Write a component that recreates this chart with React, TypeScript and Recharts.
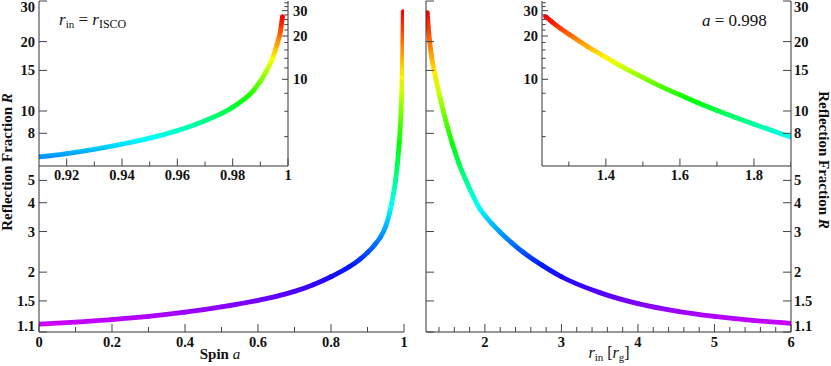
import { LineChart, Line, XAxis, YAxis, CartesianGrid } from 'recharts'

// r_in = r_ISCO, reflection fraction against spin (main panel)
const spin = [0, 0.1, 0.2, 0.3, 0.4, 0.5, 0.6, 0.65, 0.7, 0.75, 0.8, 0.85, 0.88, 0.9, 0.92, 0.935, 0.95, 0.96, 0.966, 0.972, 0.977, 0.982, 0.987, 0.992, 0.995, 0.997, 0.998]
const spinFraction = [1.19, 1.215, 1.245, 1.285, 1.34, 1.415, 1.51, 1.57, 1.65, 1.76, 1.91, 2.11, 2.28, 2.43, 2.63, 2.83, 3.16, 3.59, 3.95, 4.45, 5.0, 5.9, 7.3, 10, 14, 20, 27]

// same sweep as drawn in the zoomed inset
const spinZoom = [0.91, 0.92, 0.94, 0.95, 0.96, 0.97, 0.98, 0.9875, 0.992, 0.9943, 0.9961, 0.9973, 0.998]
const spinZoomFraction = [2.89, 3.05, 3.55, 3.9, 4.4, 5.15, 6.4, 8.35, 11.2, 13.8, 17.6, 21.7, 27.3]

// a = 0.998, reflection fraction against inner radius (main panel)
const radius = [1.246, 1.259, 1.276, 1.303, 1.346, 1.42, 1.486, 1.573, 1.66, 1.79, 1.944, 2, 2.1, 2.2, 2.35, 2.5, 2.75, 3, 3.5, 4, 4.5, 5, 5.5, 6]
const radiusFraction = [26.7, 23.2, 20.3, 17.2, 14.5, 11.2, 9.14, 7.24, 5.93, 4.69, 3.72, 3.52, 3.22, 2.98, 2.68, 2.44, 2.14, 1.91, 1.63, 1.46, 1.355, 1.285, 1.235, 1.2]

// same sweep as drawn in the zoomed inset
const radiusZoom = [1.237, 1.255, 1.277, 1.3, 1.35, 1.4, 1.45, 1.5, 1.55, 1.6, 1.65, 1.7, 1.75, 1.8, 1.85, 1.9]
const radiusZoomFraction = [27.3, 25.0, 22.6, 20.6, 16.9, 14.2, 12.0, 10.3, 8.9, 7.8, 6.85, 6.08, 5.44, 4.88, 4.4, 3.97]

const spinTicks = [0, 0.1, 0.2, 0.3, 0.4, 0.5, 0.6, 0.7, 0.8, 0.9, 1]
const spinLabels = [0, 0.2, 0.4, 0.6, 0.8, 1]
const spinTopTicks = [0.8]
const radiusTicks = [1.4, 1.6, 1.8, 2, 2.2, 2.4, 2.6, 2.8, 3, 3.2, 3.4, 3.6, 3.8, 4, 4.2, 4.4, 4.6, 4.8, 5, 5.2, 5.4, 5.6, 5.8, 6]
const radiusLabels = [2, 3, 4, 5, 6]
const radiusTopTicks = [1.4, 1.6, 1.8, 2, 2.2, 2.4, 2.6]
const fracTicks = [1.1, 1.5, 2, 3, 4, 5, 8, 10, 15, 20, 30]

const spinZoomTicks = [0.92, 0.93, 0.94, 0.95, 0.96, 0.97, 0.98, 0.99, 1]
const spinZoomLabels = [0.92, 0.94, 0.96, 0.98, 1]
const radiusZoomTicks = [1.3, 1.4, 1.5, 1.6, 1.7, 1.8, 1.9]
const radiusZoomLabels = [1.4, 1.6, 1.8]
const fracZoomTicks = [4, 6, 8, 10, 12, 14, 16, 18, 20, 22, 24, 26, 28, 30, 32, 34]
const fracZoomLabels = [10, 20, 30]

type Pt = { x: number; R: number }
const spinData: Pt[] = spin.map((a, i) => ({ x: a, R: spinFraction[i] }))
const spinZoomData: Pt[] = spinZoom.map((a, i) => ({ x: a, R: spinZoomFraction[i] }))
const radiusData: Pt[] = radius.map((r, i) => ({ x: r, R: radiusFraction[i] }))
const radiusZoomData: Pt[] = radiusZoom.map((r, i) => ({ x: r, R: radiusZoomFraction[i] }))

const serif = '"Liberation Serif", "Times New Roman", serif'
const axisLine = { stroke: '#333', strokeWidth: 1 }
const tickFont = { fontFamily: serif, fontWeight: 700, fontSize: 14.5, fill: '#111' }

// rainbow: magenta at small R through blue, cyan, green, yellow to red
const colourOf = (R: number) => {
  const h = Math.max(0, Math.min(300, 240 - (Math.log10(R) - Math.log10(2)) * 214))
  return `hsl(${h.toFixed(1)}, 100%, 50%)`
}

const gradient = (id: string, data: Pt[]) => {
  const logs = data.map((d) => Math.log10(d.R))
  const hi = Math.max(...logs)
  const lo = Math.min(...logs)
  const n = 16
  return (
    <linearGradient id={id} x1="0" y1="0" x2="0" y2="1">
      {Array.from({ length: n + 1 }, (_, k) => (
        <stop key={k} offset={k / n} stopColor={colourOf(10 ** (hi - (k / n) * (hi - lo)))} />
      ))}
    </linearGradient>
  )
}

const dotFor = (p: any) => (
  <circle key={`d${p.index}`} cx={p.cx} cy={p.cy} r={2.4} fill={colourOf(p.payload.R)} stroke="none" />
)

const near = (list: number[], v: number) => list.some((u) => Math.abs(u - v) < 1e-6)

// ticks point into the plot, labels sit outside
function tickMaker(side: string, labels: number[], majors: number[], big: number, small: number, gap: number, nudge = false) {
  return (p: any) => {
    const { x, y, payload } = p
    const v = payload.value
    const len = near(majors, v) ? big : small
    const show = near(labels, v)
    let dy = 0
    if (nudge && v === 30) dy = 6
    if (nudge && v === 1.1) dy = -6
    if (side === 'left')
      return (
        <g>
          <line x1={x} x2={x + len} y1={y} y2={y} stroke="#444" />
          {show && <text x={x - gap} y={y + dy} dy="0.35em" textAnchor="end" {...tickFont}>{v}</text>}
        </g>
      )
    if (side === 'right')
      return (
        <g>
          <line x1={x - len} x2={x} y1={y} y2={y} stroke="#444" />
          {show && <text x={x + gap} y={y + dy} dy="0.35em" textAnchor="start" {...tickFont}>{v}</text>}
        </g>
      )
    if (side === 'top')
      return (
        <g>
          <line x1={x} x2={x} y1={y} y2={y + len} stroke="#444" />
        </g>
      )
    return (
      <g>
        <line x1={x} x2={x} y1={y - len} y2={y} stroke="#444" />
        {show && <text x={x} y={y + gap} textAnchor="middle" {...tickFont}>{v}</text>}
      </g>
    )
  }
}

const bare = { tickSize: 0, tickMargin: 0, tickLine: false, interval: 0 as const, axisLine, allowDataOverflow: true }

function CurveLayer({ id, data, xDomain, left }: { id: string; data: Pt[]; xDomain: number[]; left: number }) {
  return (
    <div style={{ position: 'absolute', left, top: 1 }}>
      <LineChart width={365} height={331} data={data} margin={{ top: 0, right: 0, bottom: 0, left: 0 }}>
        <defs>{gradient(id, data)}</defs>
        <XAxis type="number" dataKey="x" domain={xDomain} hide allowDataOverflow />
        <YAxis type="number" scale="log" domain={[1.1, 30]} hide allowDataOverflow />
        <Line
          type="monotone"
          dataKey="R"
          stroke={`url(#${id})`}
          strokeWidth={4.8}
          dot={dotFor}
          activeDot={false}
          isAnimationActive={false}
        />
      </LineChart>
    </div>
  )
}

export default function App() {
  return (
    <div style={{ position: 'absolute', left: 0, top: 0, width: 831, height: 366, background: '#fff' }}>
      <CurveLayer id="spinRainbow" data={spinData} xDomain={[0, 1]} left={39} />
      <CurveLayer id="radiusRainbow" data={radiusData} xDomain={[1.23, 6]} left={426} />

      {/* inset: spin close to 1 */}
      <div style={{ position: 'absolute', left: 0, top: 0 }}>
        <LineChart width={330} height={190} data={spinZoomData} margin={{ top: 1, right: 0, bottom: 0, left: 39 }}>
          <defs>{gradient('spinZoomRainbow', spinZoomData)}</defs>
          <CartesianGrid xAxisId="b" yAxisId="r" horizontal={false} vertical={false} fill="#fff" stroke="none" />
          <XAxis xAxisId="b" type="number" dataKey="x" domain={[0.91, 1]} ticks={spinZoomTicks} height={24}
            tick={tickMaker('bottom', spinZoomLabels, spinZoomLabels, 7.5, 4.5, 14)} {...bare} />
          <XAxis xAxisId="t" orientation="top" type="number" dataKey="x" domain={[0.91, 1]} height={0} tick={false} {...bare} />
          <YAxis yAxisId="l" type="number" scale="log" domain={[2.5, 35]} width={0} tick={false} {...bare} />
          <YAxis yAxisId="r" orientation="right" type="number" scale="log" domain={[2.5, 35]} ticks={fracZoomTicks} width={42}
            tick={tickMaker('right', fracZoomLabels, fracZoomLabels, 6, 3.7, 5)} {...bare} />
          <Line xAxisId="b" yAxisId="r" type="monotone" dataKey="R" stroke="url(#spinZoomRainbow)" strokeWidth={4.8}
            dot={dotFor} activeDot={false} isAnimationActive={false} />
        </LineChart>
      </div>

      {/* inset: a = 0.998 close to the ISCO */}
      <div style={{ position: 'absolute', left: 500, top: 0 }}>
        <LineChart width={291} height={190} data={radiusZoomData} margin={{ top: 1, right: 0, bottom: 0, left: 0 }}>
          <defs>{gradient('radiusZoomRainbow', radiusZoomData)}</defs>
          <CartesianGrid xAxisId="b" yAxisId="l" horizontal={false} vertical={false} fill="#fff" stroke="none" />
          <XAxis xAxisId="b" type="number" dataKey="x" domain={[1.2275, 1.9]} ticks={radiusZoomTicks} height={24}
            tick={tickMaker('bottom', radiusZoomLabels, radiusZoomLabels, 7.5, 4.5, 14)} {...bare} />
          <XAxis xAxisId="t" orientation="top" type="number" dataKey="x" domain={[1.2275, 1.9]} height={0} tick={false} {...bare} />
          <YAxis yAxisId="l" type="number" scale="log" domain={[2.5, 35]} ticks={fracZoomTicks} width={42}
            tick={tickMaker('left', fracZoomLabels, fracZoomLabels, 6, 3.7, 4)} {...bare} />
          <YAxis yAxisId="r" orientation="right" type="number" scale="log" domain={[2.5, 35]} width={0} tick={false} {...bare} />
          <Line xAxisId="b" yAxisId="l" type="monotone" dataKey="R" stroke="url(#radiusZoomRainbow)" strokeWidth={4.8}
            dot={dotFor} activeDot={false} isAnimationActive={false} />
        </LineChart>
      </div>

      {/* main frames on top */}
      <div style={{ position: 'absolute', left: 0, top: 0 }}>
        <LineChart width={410} height={366} data={spinData} margin={{ top: 1, right: 6, bottom: 0, left: 0 }}>
          <XAxis xAxisId="b" type="number" dataKey="x" domain={[0, 1]} ticks={spinTicks} height={34}
            tick={tickMaker('bottom', spinLabels, spinLabels, 8, 5, 14.5)} {...bare} />
          <XAxis xAxisId="t" orientation="top" type="number" dataKey="x" domain={[0, 1]} ticks={spinTopTicks} height={0}
            tick={tickMaker('top', [], spinLabels, 8, 5, 0)} {...bare} />
          <YAxis yAxisId="l" type="number" scale="log" domain={[1.1, 30]} ticks={fracTicks} width={39}
            tick={tickMaker('left', fracTicks, fracTicks, 8, 8, 4, true)} {...bare} />
          <YAxis yAxisId="r" orientation="right" type="number" scale="log" domain={[1.1, 30]} ticks={fracTicks} width={0}
            tick={tickMaker('right', [], fracTicks, 8, 8, 0)} {...bare} />
        </LineChart>
      </div>
      <div style={{ position: 'absolute', left: 410, top: 0 }}>
        <LineChart width={421} height={366} data={radiusData} margin={{ top: 1, right: 0, bottom: 0, left: 0 }}>
          <XAxis xAxisId="b" type="number" dataKey="x" domain={[1.23, 6]} ticks={radiusTicks} height={34}
            tick={tickMaker('bottom', radiusLabels, radiusLabels, 8, 5, 14.5)} {...bare} />
          <XAxis xAxisId="t" orientation="top" type="number" dataKey="x" domain={[1.23, 6]} ticks={radiusTopTicks} height={0}
            tick={tickMaker('top', [], radiusLabels, 8, 5, 0)} {...bare} />
          <YAxis yAxisId="l" type="number" scale="log" domain={[1.1, 30]} ticks={fracTicks} width={16}
            tick={tickMaker('left', [], fracTicks, 8, 8, 0)} {...bare} />
          <YAxis yAxisId="r" orientation="right" type="number" scale="log" domain={[1.1, 30]} ticks={fracTicks} width={40}
            tick={tickMaker('right', fracTicks, fracTicks, 8, 8, 3, true)} {...bare} />
        </LineChart>
      </div>

      {/* titles and annotations */}
      <svg width={831} height={366} style={{ position: 'absolute', left: 0, top: 0, pointerEvents: 'none', fontFamily: serif, whiteSpace: 'pre' }}>
        <text transform="translate(12,162) rotate(-90)" textAnchor="middle" fontWeight={700} fontSize={15} fill="#111">
          Reflection Fraction <tspan fontStyle="italic">R</tspan>
        </text>
        <text transform="translate(819,160) rotate(90)" textAnchor="middle" fontWeight={700} fontSize={15} fill="#111">
          Reflection Fraction <tspan fontStyle="italic">R</tspan>
        </text>
        <text x={220} y={359} textAnchor="middle" fontWeight={700} fontSize={15} fill="#111">
          Spin <tspan fontStyle="italic" fontWeight={400}>a</tspan>
        </text>
        <text x={609} y={358} textAnchor="middle" fontSize={16} fill="#111">
          <tspan fontStyle="italic">r</tspan>
          <tspan fontSize={11} dy={3}>in</tspan>
          <tspan dy={-3}> [</tspan>
          <tspan fontStyle="italic">r</tspan>
          <tspan fontSize={11} dy={3}>g</tspan>
          <tspan dy={-3}>]</tspan>
        </text>
        <text x={59} y={25} fontSize={17} fill="#111">
          <tspan fontStyle="italic">r</tspan>
          <tspan fontSize={11} dy={3}>in</tspan>
          <tspan dy={-3}>  =  </tspan>
          <tspan fontStyle="italic">r</tspan>
          <tspan fontSize={12} dy={3}>ISCO</tspan>
        </text>
        <text x={702} y={26} fontSize={17} fill="#111">
          <tspan fontStyle="italic">a</tspan>  =  0.998
        </text>
      </svg>
    </div>
  )
}
